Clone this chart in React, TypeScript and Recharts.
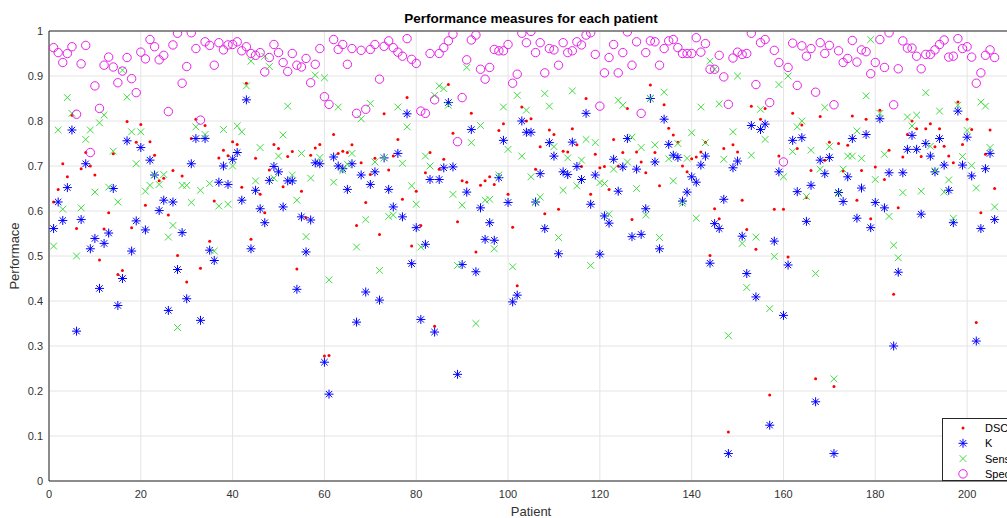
import React from 'react';
import { ScatterChart, Scatter, XAxis, YAxis, CartesianGrid } from 'recharts';

// Per-patient performance measures (patients 1..206)
const dsc = [
  0.62, 0.648, 0.705, 0.676, 0.813, 0.561, 0.694, 0.73, 0.7, 0.68,
  0.491, 0.56, 0.596, 0.727, 0.459, 0.468, 0.799, 0.563, 0.753, 0.792,
  0.613, 0.754, 0.724, 0.667, 0.673, 0.591, 0.69, 0.501, 0.678, 0.442,
  0.761, 0.804, 0.473, 0.79, 0.533, 0.622, 0.718, 0.735, 0.723, 0.754,
  0.748, 0.653, 0.884, 0.537, 0.717, 0.637, 0.596, 0.691, 0.748, 0.739,
  0.654, 0.721, 0.732, 0.471, 0.644, 0.585, 0.724, 0.74, 0.748, 0.278,
  0.279, 0.77, 0.728, 0.733, 0.73, 0.747, 0.568, 0.707, 0.619, 0.681,
  0.717, 0.548, 0.816, 0.691, 0.722, 0.759, 0.626, 0.852, 0.522, 0.644,
  0.568, 0.685, 0.73, 0.344, 0.693, 0.715, 0.881, 0.773, 0.576, 0.667,
  0.664, 0.817, 0.509, 0.657, 0.667, 0.676, 0.659, 0.779, 0.794, 0.637,
  0.564, 0.434, 0.831, 0.8, 0.805, 0.693, 0.743, 0.594, 0.78, 0.77,
  0.604, 0.733, 0.731, 0.783, 0.747, 0.699, 0.85, 0.637, 0.726, 0.696,
  0.699, 0.648, 0.759, 0.7, 0.73, 0.828, 0.581, 0.731, 0.709, 0.685,
  0.88, 0.73, 0.656, 0.836, 0.784, 0.769, 0.753, 0.7, 0.687, 0.716,
  0.72, 0.731, 0.753, 0.501, 0.605, 0.583, 0.739, 0.109, 0.747, 0.731,
  0.624, 0.559, 0.833, 0.515, 0.804, 0.828, 0.191, 0.604, 0.722, 0.604,
  0.498, 0.817, 0.739, 0.791, 0.63, 0.69, 0.227, 0.81, 0.713, 0.753,
  0.21, 0.75, 0.689, 0.746, 0.811, 0.624, 0.69, 0.804, 0.583, 0.698,
  0.824, 0.67, 0.735, 0.415, 0.607, 0.72, 0.77, 0.8, 0.783, 0.721,
  0.783, 0.794, 0.743, 0.783, 0.744, 0.722, 0.707, 0.842, 0.748, 0.804,
  0.781, 0.352, 0.596, 0.726, 0.78, 0.65,
];

const kappa = [
  0.561, 0.62, 0.579, 0.652, 0.78, 0.333, 0.581, 0.705, 0.516, 0.539,
  0.428, 0.528, 0.551, 0.65, 0.39, 0.45, 0.756, 0.511, 0.578, 0.741,
  0.558, 0.713, 0.68, 0.601, 0.624, 0.379, 0.62, 0.47, 0.552, 0.405,
  0.705, 0.761, 0.357, 0.761, 0.513, 0.49, 0.664, 0.7, 0.659, 0.715,
  0.73, 0.624, 0.847, 0.516, 0.646, 0.605, 0.574, 0.668, 0.699, 0.687,
  0.609, 0.667, 0.667, 0.426, 0.587, 0.509, 0.58, 0.707, 0.705, 0.264,
  0.193, 0.72, 0.7, 0.694, 0.648, 0.705, 0.353, 0.68, 0.42, 0.659,
  0.687, 0.402, 0.718, 0.648, 0.609, 0.728, 0.587, 0.816, 0.483, 0.563,
  0.359, 0.526, 0.67, 0.331, 0.67, 0.696, 0.841, 0.698, 0.237, 0.481,
  0.642, 0.781, 0.465, 0.607, 0.537, 0.574, 0.535, 0.674, 0.757, 0.619,
  0.398, 0.413, 0.8, 0.775, 0.775, 0.62, 0.683, 0.561, 0.752, 0.722,
  0.505, 0.687, 0.681, 0.753, 0.699, 0.67, 0.817, 0.615, 0.68, 0.504,
  0.589, 0.573, 0.715, 0.644, 0.698, 0.761, 0.543, 0.693, 0.548, 0.605,
  0.85, 0.709, 0.516, 0.804, 0.748, 0.724, 0.719, 0.622, 0.642, 0.676,
  0.664, 0.702, 0.722, 0.484, 0.572, 0.561, 0.626, 0.061, 0.696, 0.711,
  0.544, 0.461, 0.79, 0.409, 0.781, 0.793, 0.124, 0.533, 0.687, 0.368,
  0.48, 0.757, 0.643, 0.763, 0.577, 0.657, 0.176, 0.713, 0.683, 0.719,
  0.061, 0.641, 0.621, 0.676, 0.761, 0.584, 0.651, 0.77, 0.563, 0.619,
  0.805, 0.607, 0.685, 0.3, 0.464, 0.685, 0.737, 0.768, 0.737, 0.593,
  0.75, 0.722, 0.687, 0.761, 0.702, 0.646, 0.574, 0.822, 0.702, 0.764,
  0.678, 0.311, 0.561, 0.694, 0.728, 0.581,
];

const sensitivity = [
  0.522, 0.78, 0.604, 0.852, 0.817, 0.5, 0.607, 0.759, 0.78, 0.642,
  0.796, 0.813, 0.653, 0.733, 0.62, 0.913, 0.853, 0.776, 0.705, 0.776,
  0.644, 0.657, 0.68, 0.659, 0.681, 0.542, 0.568, 0.341, 0.657, 0.657,
  0.619, 0.787, 0.646, 0.77, 0.661, 0.511, 0.611, 0.781, 0.615, 0.7,
  0.789, 0.776, 0.878, 0.933, 0.667, 0.741, 0.944, 0.921, 0.673, 0.722,
  0.769, 0.833, 0.68, 0.624, 0.728, 0.543, 0.673, 0.902, 0.719, 0.896,
  0.447, 0.664, 0.831, 0.69, 0.704, 0.728, 0.52, 0.805, 0.581, 0.839,
  0.709, 0.468, 0.718, 0.588, 0.591, 0.831, 0.706, 0.787, 0.656, 0.615,
  0.52, 0.722, 0.7, 0.857, 0.878, 0.872, 0.835, 0.637, 0.479, 0.613,
  0.919, 0.752, 0.35, 0.79, 0.624, 0.626, 0.516, 0.68, 0.831, 0.737,
  0.476, 0.857, 0.722, 0.824, 0.676, 0.619, 0.631, 0.861, 0.833, 0.743,
  0.541, 0.646, 0.718, 0.867, 0.656, 0.713, 0.759, 0.479, 0.752, 0.663,
  0.661, 0.593, 0.693, 0.846, 0.835, 0.709, 0.764, 0.65, 0.741, 0.591,
  0.85, 0.747, 0.541, 0.864, 0.716, 0.667, 0.75, 0.617, 0.717, 0.774,
  0.584, 0.831, 0.752, 0.933, 0.915, 0.838, 0.715, 0.323, 0.776, 0.9,
  0.528, 0.43, 0.724, 0.542, 0.826, 0.759, 0.383, 0.499, 0.881, 0.676,
  0.9, 0.732, 0.787, 0.8, 0.632, 0.735, 0.461, 0.693, 0.83, 0.743,
  0.227, 0.639, 0.693, 0.722, 0.722, 0.778, 0.717, 0.856, 0.981, 0.67,
  0.817, 0.726, 0.588, 0.524, 0.496, 0.641, 0.809, 0.789, 0.813, 0.644,
  0.863, 0.744, 0.689, 0.822, 0.642, 0.669, 0.584, 0.835, 0.721, 0.779,
  0.701, 0.651, 0.842, 0.833, 0.741, 0.609,
];

const specificity = [
  0.963, 0.952, 0.93, 0.95, 0.965, 0.815, 0.927, 0.968, 0.73, 0.878,
  0.828, 0.924, 0.942, 0.92, 0.885, 0.911, 0.941, 0.894, 0.863, 0.953,
  0.938, 0.981, 0.965, 0.936, 0.946, 0.821, 0.969, 0.995, 0.884, 0.921,
  0.996, 0.961, 0.802, 0.976, 0.968, 0.924, 0.974, 0.958, 0.969, 0.97,
  0.976, 0.956, 0.965, 0.95, 0.946, 0.952, 0.909, 0.941, 0.97, 0.952,
  0.93, 0.91, 0.95, 0.924, 0.92, 0.939, 0.885, 0.926, 0.961, 0.854,
  0.837, 0.981, 0.959, 0.97, 0.926, 0.961, 0.817, 0.957, 0.826, 0.959,
  0.97, 0.893, 0.966, 0.978, 0.963, 0.953, 0.944, 0.983, 0.937, 0.928,
  0.822, 0.817, 0.95, 0.847, 0.95, 0.963, 0.978, 0.993, 0.754, 0.852,
  0.936, 0.98, 0.991, 0.915, 0.893, 0.919, 0.959, 0.956, 0.956, 0.97,
  0.884, 0.904, 0.995, 0.974, 0.999, 0.952, 0.974, 0.907, 0.961, 0.958,
  0.924, 0.974, 0.952, 0.956, 0.976, 0.969, 0.991, 0.996, 0.948, 0.833,
  0.907, 0.941, 0.97, 0.907, 0.952, 0.998, 0.924, 0.976, 0.817, 0.952,
  0.978, 0.976, 0.924, 0.961, 0.978, 0.981, 0.963, 0.95, 0.95, 0.95,
  0.985, 0.953, 0.972, 0.915, 0.915, 0.946, 0.898, 0.837, 0.94, 0.953,
  0.948, 0.95, 0.995, 0.881, 0.974, 0.981, 0.841, 0.957, 0.93, 0.709,
  0.919, 0.973, 0.879, 0.967, 0.944, 0.961, 0.864, 0.974, 0.95, 0.968,
  0.836, 0.956, 0.93, 0.939, 0.979, 0.931, 0.958, 0.954, 0.905, 0.93,
  0.981, 0.919, 0.996, 0.836, 0.916, 0.978, 0.962, 0.962, 0.944, 0.916,
  0.948, 0.948, 0.958, 0.97, 0.98, 0.942, 0.944, 0.983, 0.961, 0.965,
  0.942, 0.884, 0.907, 0.946, 0.958, 0.941,
];

const xTicks = [0, 20, 40, 60, 80, 100, 120, 140, 160, 180, 200];
const yTicks = [0, 0.1, 0.2, 0.3, 0.4, 0.5, 0.6, 0.7, 0.8, 0.9, 1];
const yTickLabels = ['0', '0.1', '0.2', '0.3', '0.4', '0.5', '0.6', '0.7', '0.8', '0.9', '1'];
const legendLabels = ['DSC', 'K', 'Sensitivity', 'Specificity'];

const toPoints = (values: number[]) => values.map((value, i) => ({ patient: i + 1, value }));

const FONT = '"Liberation Sans", Arial, Helvetica, sans-serif';
const AXIS = '#262626';
const TEXT = '#333333';
const RED = '#ff0000';
const BLUE = '#0000ff';
const GREEN = '#3fdc3f';
const MAGENTA = '#e81ee8';

const W = 1060;
const H = 518;
const PLOT_LEFT = 49;
const PLOT_RIGHT = 1013;
const PLOT_TOP = 31;
const PLOT_BOTTOM = 481;

// Marker shapes
const DotMark = ({ cx, cy }: any) => <circle cx={cx} cy={cy} r={1.5} fill={RED} />;

const StarMark = ({ cx, cy }: any) => {
  const r = 4.5;
  const d = r * 0.7071;
  return (
    <g stroke={BLUE} strokeWidth={1}>
      <line x1={cx - r} y1={cy} x2={cx + r} y2={cy} />
      <line x1={cx} y1={cy - r} x2={cx} y2={cy + r} />
      <line x1={cx - d} y1={cy - d} x2={cx + d} y2={cy + d} />
      <line x1={cx - d} y1={cy + d} x2={cx + d} y2={cy - d} />
    </g>
  );
};

const CrossMark = ({ cx, cy }: any) => {
  const r = 3.4;
  return (
    <g stroke={GREEN} strokeWidth={1}>
      <line x1={cx - r} y1={cy - r} x2={cx + r} y2={cy + r} />
      <line x1={cx - r} y1={cy + r} x2={cx + r} y2={cy - r} />
    </g>
  );
};

const RingMark = ({ cx, cy }: any) => (
  <circle cx={cx} cy={cy} r={4.2} fill="none" stroke={MAGENTA} strokeWidth={1} />
);

const marks = [DotMark, StarMark, CrossMark, RingMark];

export default function App() {
  const tickStyle = { fontSize: 11, fill: TEXT, fontFamily: FONT };
  return (
    <div
      style={{
        position: 'fixed',
        left: 0,
        top: 0,
        width: 1007,
        height: 518,
        overflow: 'hidden',
        background: '#ffffff',
      }}
    >
      <div style={{ position: 'relative', width: W, height: H }}>
        <ScatterChart
          width={W}
          height={H}
          margin={{ top: PLOT_TOP, right: W - PLOT_RIGHT, bottom: 0, left: 0 }}
        >
          <CartesianGrid xAxisId="x" yAxisId="y" stroke="#e4e4e4" strokeWidth={1} />
          <XAxis
            xAxisId="x"
            type="number"
            dataKey="patient"
            domain={[0, 210]}
            ticks={xTicks}
            interval={0}
            height={H - PLOT_BOTTOM}
            tick={tickStyle}
            tickSize={0}
            tickMargin={9}
            tickLine={false}
            axisLine={{ stroke: AXIS }}
            allowDataOverflow
          />
          <XAxis
            xAxisId="xin"
            type="number"
            domain={[0, 210]}
            ticks={xTicks}
            interval={0}
            mirror
            tick={false}
            tickSize={5}
            tickLine={{ stroke: AXIS }}
            axisLine={false}
            allowDataOverflow
          />
          <XAxis
            xAxisId="xtop"
            orientation="top"
            type="number"
            domain={[0, 210]}
            ticks={xTicks}
            interval={0}
            mirror
            tick={false}
            tickSize={5}
            tickLine={{ stroke: AXIS }}
            axisLine={{ stroke: AXIS }}
            allowDataOverflow
          />
          <YAxis
            yAxisId="y"
            type="number"
            dataKey="value"
            domain={[0, 1]}
            ticks={yTicks}
            interval={0}
            width={PLOT_LEFT}
            tick={tickStyle}
            tickFormatter={(v: number) => yTickLabels[yTicks.indexOf(v)] ?? String(v)}
            tickSize={0}
            tickMargin={6}
            tickLine={false}
            axisLine={{ stroke: AXIS }}
            allowDataOverflow
          />
          <YAxis
            yAxisId="yin"
            type="number"
            domain={[0, 1]}
            ticks={yTicks}
            interval={0}
            mirror
            tick={false}
            tickSize={5}
            tickLine={{ stroke: AXIS }}
            axisLine={false}
            allowDataOverflow
          />
          <YAxis
            yAxisId="yright"
            orientation="right"
            type="number"
            domain={[0, 1]}
            ticks={yTicks}
            interval={0}
            mirror
            tick={false}
            tickSize={5}
            tickLine={{ stroke: AXIS }}
            axisLine={{ stroke: AXIS }}
            allowDataOverflow
          />
          <Scatter name="DSC" data={toPoints(dsc)} xAxisId="x" yAxisId="y" shape={DotMark} isAnimationActive={false} />
          <Scatter name="K" data={toPoints(kappa)} xAxisId="x" yAxisId="y" shape={StarMark} isAnimationActive={false} />
          <Scatter name="Sensitivity" data={toPoints(sensitivity)} xAxisId="x" yAxisId="y" shape={CrossMark} isAnimationActive={false} />
          <Scatter name="Specificity" data={toPoints(specificity)} xAxisId="x" yAxisId="y" shape={RingMark} isAnimationActive={false} />
        </ScatterChart>

        <svg
          width={W}
          height={H}
          style={{ position: 'absolute', left: 0, top: 0, pointerEvents: 'none' }}
          fontFamily={FONT}
        >
          <text
            x={(PLOT_LEFT + PLOT_RIGHT) / 2}
            y={23}
            textAnchor="middle"
            fontSize={13.5}
            fontWeight="bold"
            fill="#000"
          >
            Performance measures for each patient
          </text>
          <text x={(PLOT_LEFT + PLOT_RIGHT) / 2} y={516} textAnchor="middle" fontSize={13} fill={TEXT}>
            Patient
          </text>
          <text
            x={0}
            y={0}
            transform={`translate(19, ${(PLOT_TOP + PLOT_BOTTOM) / 2}) rotate(-90)`}
            textAnchor="middle"
            fontSize={13}
            fill={TEXT}
          >
            Performace
          </text>

          <g>
            <rect x={942.5} y={418.5} width={112} height={62} fill="#fff" stroke={AXIS} strokeWidth={1} />
            {legendLabels.map((label, i) => {
              const Mark = marks[i];
              const cy = 428 + i * 15.3;
              return (
                <g key={label}>
                  <Mark cx={963} cy={cy} />
                  <text x={985} y={cy + 4} fontSize={11} fill="#000">
                    {label}
                  </text>
                </g>
              );
            })}
          </g>
        </svg>
      </div>
    </div>
  );
}
